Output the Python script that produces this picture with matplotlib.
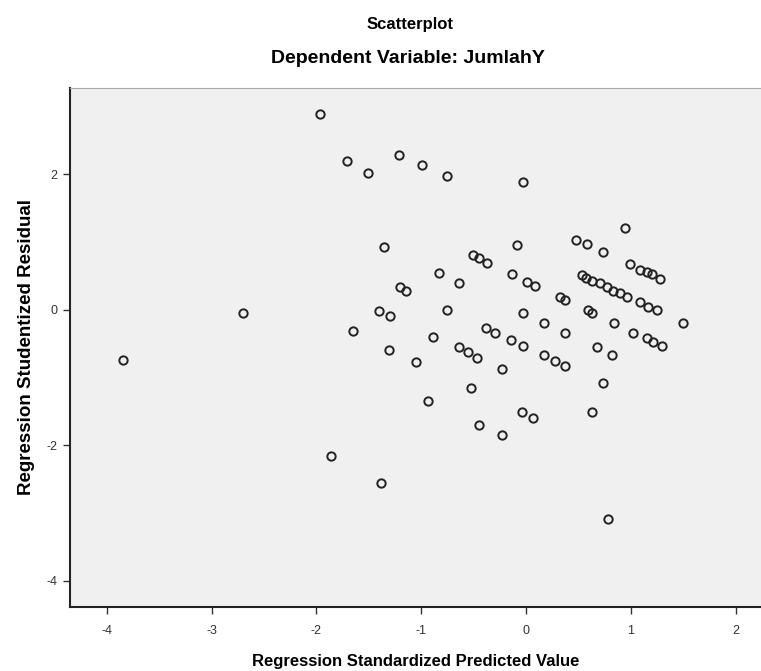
import matplotlib.pyplot as plt

plt.rcParams['font.family'] = ['Liberation Sans', 'DejaVu Sans']
plt.rcParams['axes.unicode_minus'] = False

# standardized predicted value vs studentized residual
pred = [-1.97, -1.71, -1.51, -1.21, -0.99, -0.75, -0.03, -1.36, -0.09, 0.48,
        0.58, 0.73, 0.94, -0.51, -0.45, -0.37, -0.83, -0.64, -1.20, -1.15,
        -0.13, 0.01, 0.08, 0.32, 0.37, 0.99, 1.09, 1.15, 1.20, 1.28,
        0.53, 0.57, 0.63, 0.70, 0.77, 0.83, 0.90, 0.96, 1.09, 1.16,
        1.25, 1.50, 0.59, 0.63, -0.75, -0.03, 0.17, 0.37, 0.84, -0.38,
        -0.30, -0.14, -0.03, -0.64, -0.55, -0.47, -0.23, 0.17, 0.28, 0.37,
        0.68, 0.82, 1.02, 1.15, 1.21, 1.30, 0.73, 0.63, -0.89, -1.05,
        -0.53, -0.94, -0.04, 0.07, -0.45, -0.23, -2.70, -1.40, -1.30, -1.65,
        -1.31, -3.84, -1.86, -1.38, 0.78]
resid = [2.89, 2.19, 2.02, 2.28, 2.13, 1.97, 1.88, 0.92, 0.95, 1.03,
         0.97, 0.85, 1.20, 0.81, 0.76, 0.69, 0.54, 0.39, 0.33, 0.27,
         0.52, 0.41, 0.35, 0.18, 0.14, 0.67, 0.58, 0.55, 0.52, 0.45,
         0.51, 0.47, 0.42, 0.39, 0.33, 0.27, 0.24, 0.18, 0.11, 0.04,
         -0.01, -0.20, -0.01, -0.05, -0.01, -0.05, -0.20, -0.35, -0.20, -0.27,
         -0.35, -0.45, -0.54, -0.55, -0.63, -0.72, -0.88, -0.67, -0.76, -0.83,
         -0.55, -0.67, -0.35, -0.42, -0.48, -0.54, -1.09, -1.51, -0.41, -0.78,
         -1.16, -1.35, -1.51, -1.60, -1.71, -1.85, -0.05, -0.02, -0.10, -0.32,
         -0.60, -0.75, -2.16, -2.56, -3.09]

xticks = [-4, -3, -2, -1, 0, 1, 2]
yticks = [2, 0, -2, -4]

fig = plt.figure(figsize=(7.61, 6.71), dpi=100)
ax = fig.add_axes([0.092, 0.0954, 0.908, 0.7735])
ax.set_facecolor('#f0f0f0')

ax.plot(pred, resid, 'o', ms=6, mfc='none', mec='#222222', mew=1.4)

ax.set_xlim(-4.35, 2.24)
ax.set_ylim(-4.39, 3.27)
ax.set_xticks(xticks)
ax.set_yticks(yticks)
ax.tick_params(direction='out', length=5, width=1, colors='#333333',
               labelsize=9)
ax.tick_params(axis='x', pad=8)
ax.tick_params(axis='y', pad=4)

for s in ['left', 'bottom']:
    ax.spines[s].set_linewidth(1.5)
    ax.spines[s].set_color('#222222')
ax.spines['top'].set_color('#a8a8a8')
ax.spines['right'].set_visible(False)

ax.set_xlabel('Regression Standardized Predicted Value', fontsize=12,
              fontweight='bold', labelpad=12)
ax.set_ylabel('Regression Studentized Residual', fontsize=13.5,
              fontweight='bold', labelpad=8)

fig.text(0.539, 0.963, 'Scatterplot', ha='center', va='center',
         fontsize=12, fontweight='bold')
fig.text(0.536, 0.913, 'Dependent Variable: JumlahY', ha='center',
         va='center', fontsize=14, fontweight='bold')

fig.savefig('out.png', dpi=100)
